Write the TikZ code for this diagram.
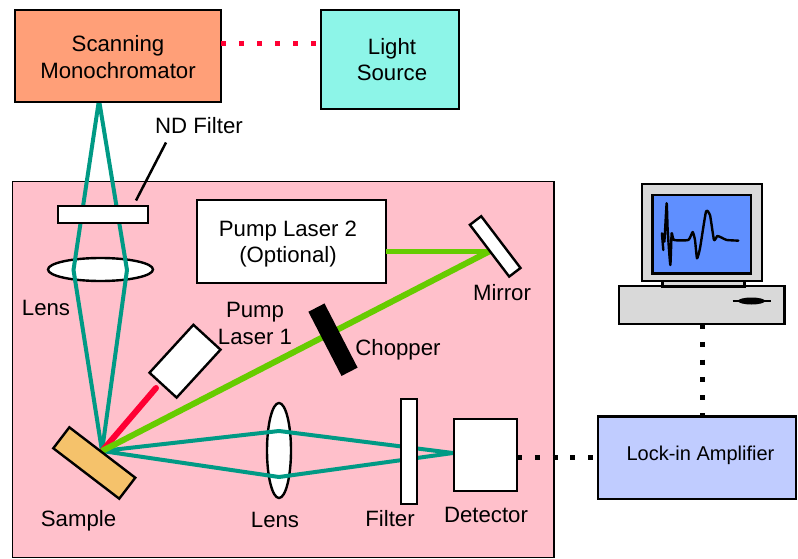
\documentclass[tikz,border=0pt]{standalone}
\usepackage{fontspec}
\setmainfont{Liberation Sans}
\usetikzlibrary{shapes.geometric}
\definecolor{tealray}{HTML}{009A85}
\definecolor{greenray}{HTML}{66CC00}
\definecolor{redray}{HTML}{FF0033}
\definecolor{pinkbg}{HTML}{FFC0CB}
\definecolor{orangebox}{HTML}{FF9F78}
\definecolor{cyanbox}{HTML}{8DF5E8}
\definecolor{lockbox}{HTML}{C0CCFF}
\definecolor{samplefill}{HTML}{F5C26B}
\definecolor{screenblue}{HTML}{5F8FFF}
\definecolor{cgrey}{HTML}{D9D9D9}
\tikzset{
  x=1pt,y=-1pt,
  lab/.style={inner sep=0pt,outer sep=0pt,align=center,font=\fontsize{22.2}{26.6}\selectfont,text=black},
  part/.style={draw=black,line width=2.4pt,fill=white,inner sep=0pt,outer sep=0pt},
  lensshape/.style={part,ellipse},
  tealline/.style={draw=tealray,line width=4pt,line join=miter},
  greenline/.style={draw=greenray,line width=6pt},
  dotline/.style={line width=5pt,dash pattern=on 5pt off 12.8pt},
  dimrect/.style args={#1x#2}{minimum width=#1pt,minimum height=#2pt},
}
\begin{document}
\begin{tikzpicture}
\useasboundingbox (0,0) rectangle (798,559);
% main panel
\node[draw=black,line width=1.8pt,fill=pinkbg,inner sep=0pt,outer sep=0pt,dimrect=541.5x376] (panel) at (283.25,369.5) {};
% ray points
\coordinate (apex) at (99,100);
\coordinate (samplept) at (102,451);
\coordinate (lensL) at (73.5,270);
\coordinate (lensR) at (127,270);
\coordinate (lens2U) at (279,431);
\coordinate (lens2D) at (279,477);
\coordinate (detpt) at (453,453);
% lenses
\node[lensshape,dimrect=105x23] (lensA) at (100.5,269.5) {};
\node[lensshape,dimrect=24x95] (lensB) at (279,450.5) {};
% teal rays
\draw[tealline] (apex) -- (lensL) -- (samplept) -- (lensR) -- cycle;
\draw[tealline] (samplept) -- (lens2U) -- (detpt) -- (lens2D) -- cycle;
% optics
\node[part,dimrect=90x17] (nd) at (103,214.5) {};
\node[part,dimrect=16x105] (filter) at (409,451.5) {};
\node[part,dimrect=63x72] (detector) at (485.5,455) {};
\node[part,dimrect=189x83] (pump2) at (291.5,241.5) {};
\node[lab] (pump2t) at (288,244) {Pump Laser 2\\(Optional)};
% laser beams
\coordinate (mirrorpt) at (490,251);
\node[part,dimrect=36.8x65,rotate=-42.5] (pump1) at (185,361.2) {};
\coordinate (redstart) at (156,388);
\coordinate (redend) at (103,450);
\draw[draw=redray,line width=6pt,line cap=round] (redstart) -- (redend);
\draw[draw=greenray,line width=5pt] (pump2.east|-mirrorpt) -- (mirrorpt);
\draw[greenline] (mirrorpt) -- (samplept);
\node[part,dimrect=65x14.2,rotate=-52.8] (mirror) at (495.2,246.4) {};
\node[part,fill=black,dimrect=69.8x15.7,rotate=-62.7] (chopper) at (333,339.7) {};
\node[part,fill=samplefill,dimrect=83x26.4,rotate=-37.4] (sample) at (94.3,463) {};
% ND leader
\coordinate (ndlabel) at (166,142.5);
\coordinate (ndend) at (136,200.5);
\draw[line width=2.5pt,black] (ndlabel) -- (ndend);
% top boxes
\node[part,line width=2.8pt,fill=orangebox,dimrect=206x92] (mono) at (118,56) {};
\node[lab] (monot) at (118,57) {Scanning\\Monochromator};
\node[part,fill=cyanbox,dimrect=138x99] (light) at (390,59.5) {};
\node[lab] (lightt) at (392,59.5) {Light\\Source};
\draw[draw=redray,line width=5pt,dash pattern=on 5pt off 13pt] (mono.east|-0,43.3) -- (light.west|-0,43.3);
% lock-in
\node[part,fill=lockbox,dimrect=198x82.5] (lockin) at (696.7,457.8) {};
\node[lab,font=\fontsize{20}{24}\selectfont] (lockint) at (700.5,455) {Lock-in Amplifier};
% computer
\node[part,fill=cgrey,dimrect=165.3x38] (base) at (701.7,305) {};
\node[part,fill=cgrey,dimrect=82x6] (stand) at (703.3,283.3) {};
\node[part,fill=cgrey,dimrect=120x97] (monitor) at (701.7,232.5) {};
\node[part,fill=screenblue,dimrect=98.4x78.3] (screen) at (701.5,234.2) {};
\draw[line width=2.4pt,line join=round,line cap=round,black,shift={(600,170)},x=0.3333pt,y=-0.3333pt]
 plot[smooth,tension=0.3] coordinates {(190,240)(186,190)(193,215)(200,100)(203,180)(211,285)(215,190)(222,210)(265,210)(278,186)(285,210)(291,265)(300,235)(318,125)(330,135)(342,210)(352,198)(365,203)(380,210)(415,212)};
\node[part,fill=black,draw=none,ellipse,dimrect=27x7] (slot) at (751.5,301) {};
\draw[line width=1.5pt] (slot.center) +(-19,0) -- +(19,0);
% dotted signal lines
\draw[dotline] (detector.east|-0,457) -- (lockin.west|-0,457);
\draw[dotline] (base.south-|702,0) -- (lockin.north-|702,0);
% labels
\node[lab] (ndt) at (199,126) {ND Filter};
\node[lab] (lensAt) at (46,308) {Lens};
\node[lab] (mirrort) at (502,293) {Mirror};
\node[lab] (pump1t) at (255,323.5) {Pump\\Laser 1};
\node[lab] (choppert) at (398,350) {Chopper};
\node[lab] (samplet) at (78.5,521) {Sample};
\node[lab] (lensBt) at (275,520) {Lens};
\node[lab] (filtert) at (390,519) {Filter};
\node[lab] (detectort) at (486,515) {Detector};
\end{tikzpicture}
\end{document}
